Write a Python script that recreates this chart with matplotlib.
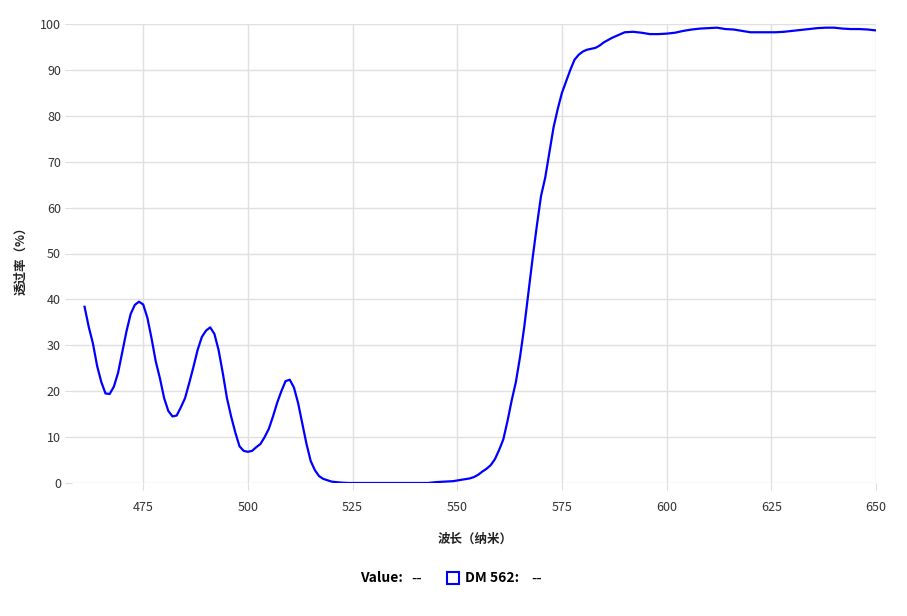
import matplotlib
matplotlib.use('Agg')
import matplotlib.pyplot as plt
from matplotlib.patches import Rectangle

plt.rcParams['font.family'] = ['Noto Sans CJK SC', 'DejaVu Sans']

# wavelength (nm) and transmission (%)
wavelength = [461, 462, 463, 464, 465, 466, 467, 468, 469, 470, 471, 472, 473, 474, 475,
              476, 477, 478, 479, 480, 481, 482, 483, 484, 485, 486, 487, 488, 489, 490,
              491, 492, 493, 494, 495, 496, 497, 498, 499, 500, 501, 502, 503, 504, 505,
              506, 507, 508, 509, 510, 511, 512, 513, 514, 515, 516, 517, 518, 519, 520,
              521, 522, 524, 526, 530, 535, 540, 543, 545, 547, 549, 551, 553, 554, 555,
              556, 557, 558, 559, 560, 561, 562, 563, 564, 565, 566, 567, 568, 569, 570,
              571, 572, 573, 574, 575, 576, 577, 578, 579, 580, 581, 582, 583, 584, 585,
              586, 587, 588, 589, 590, 592, 594, 596, 598, 600, 602, 604, 606, 608, 610,
              612, 614, 616, 618, 620, 622, 624, 626, 628, 630, 632, 634, 636, 638, 640,
              642, 644, 646, 648, 650]
transmission = [38.4, 34.0, 30.4, 25.5, 22.0, 19.5, 19.4, 21.0, 24.0, 28.5, 33.0, 36.8, 38.8, 39.5, 38.9,
                36.0, 31.5, 26.5, 22.8, 18.5, 15.7, 14.5, 14.7, 16.5, 18.5, 21.8, 25.3, 29.0, 31.8, 33.2,
                33.9, 32.5, 29.0, 24.0, 18.5, 14.5, 11.0, 8.0, 7.0, 6.8, 7.0, 7.8, 8.5, 10.0, 11.8,
                14.5, 17.5, 20.0, 22.2, 22.5, 20.8, 17.4, 13.0, 8.5, 4.8, 2.8, 1.5, 0.9, 0.6, 0.3,
                0.2, 0.1, 0.0, 0.0, 0.0, 0.0, 0.0, 0.0, 0.2, 0.3, 0.4, 0.7, 1.0, 1.3, 1.8,
                2.5, 3.1, 3.9, 5.2, 7.2, 9.5, 13.5, 18.0, 22.0, 27.5, 34.0, 41.5, 49.0, 56.0, 62.5,
                66.5, 72.0, 77.5, 81.5, 85.0, 87.5, 90.0, 92.2, 93.3, 94.0, 94.4, 94.6, 94.8, 95.3, 96.0,
                96.5, 97.0, 97.4, 97.8, 98.2, 98.3, 98.1, 97.8, 97.8, 97.9, 98.1, 98.5, 98.8, 99.0, 99.1,
                99.2, 98.9, 98.8, 98.5, 98.2, 98.2, 98.2, 98.2, 98.3, 98.5, 98.7, 98.9, 99.1, 99.2, 99.2,
                99.0, 98.9, 98.9, 98.8, 98.6]

x_ticks = [475, 500, 525, 550, 575, 600, 625, 650]
y_ticks = [0, 10, 20, 30, 40, 50, 60, 70, 80, 90, 100]
series_name = 'DM 562'

fig = plt.figure(figsize=(9.07, 6.16), dpi=100)
ax = fig.add_axes([72 / 907, 133 / 616, 804 / 907, 459 / 616])

ax.plot(wavelength, transmission, color='#0000ff', lw=1.6, zorder=3)

ax.set_xlim(458, 650)
ax.set_ylim(0, 100)
ax.set_xticks(x_ticks)
ax.set_yticks(y_ticks)
ax.grid(True, color='#e0e0e0', lw=1)
for s in ax.spines.values():
    s.set_visible(False)
ax.tick_params(axis='both', colors='#dddddd', labelcolor='#333333', labelsize=9, length=5)
ax.tick_params(axis='x', pad=8)
ax.tick_params(axis='y', pad=3)

ax.set_xlabel('波长（纳米）', fontsize=9, fontweight='bold', color='#222222')
ax.set_ylabel('透过率（%）', fontsize=9, fontweight='bold', color='#222222')
ax.xaxis.set_label_coords((475 - 72) / 804, (483 - 533) / 459)
ax.yaxis.set_label_coords((27 - 72) / 804, (483 - 258) / 459)

# legend row at the bottom
ly = 38 / 616
fig.text(360 / 907, ly, 'Value:', fontsize=10, fontweight='bold', va='center')
fig.text(411 / 907, ly, '--', fontsize=10.5, va='center', family='DejaVu Sans')
fig.patches.append(Rectangle((447 / 907, ly - 6 / 616), 12 / 907, 12 / 616,
                             transform=fig.transFigure, fill=False, ec='#0000ff', lw=1.5))
fig.text(465 / 907, ly, series_name + ':', fontsize=10, fontweight='bold', va='center')
fig.text(531 / 907, ly, '--', fontsize=10.5, va='center', family='DejaVu Sans')

fig.savefig('out.png', dpi=100)
